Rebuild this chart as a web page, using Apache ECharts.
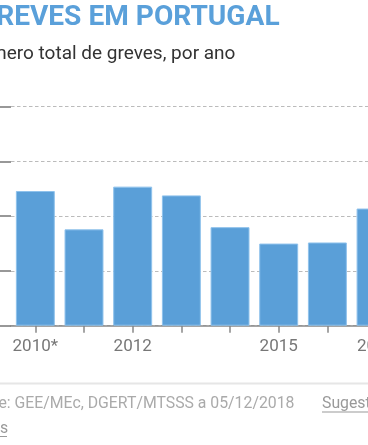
<!DOCTYPE html>
<html>
<head>
<meta charset="utf-8">
<script src="https://cdn.jsdelivr.net/npm/echarts@6/dist/echarts.min.js"></script>
<style>
html,body{margin:0;padding:0;background:#fff;overflow:hidden;width:368px;height:445px;position:relative;}
#chart{position:absolute;left:-40px;top:0;width:448px;height:445px;}
</style>
</head>
<body>
<div id="chart"></div>
<script>
const categories = ['2010*', '2011', '2012', '2013', '2014', '2015', '2016', '2017'];
const tickLabels = ['2010*', '', '2012', '', '', '2015', '', '2017'];
const strikes = [123, 88, 127, 119, 90, 75, 76, 107];
const yTicks = [0, 50, 100, 150, 200];

const OX = 40; // chart is shifted 40px left of the visible window
const chart = echarts.init(document.getElementById('chart'), null, {renderer: 'canvas'});
const FONT = 'Roboto';
chart.setOption({
  animation: false,
  grid: {left: OX + 11, right: 448 - (OX + 400.4), top: 106.7, bottom: 119.3, containLabel: false},
  xAxis: {
    type: 'category',
    data: categories,
    boundaryGap: true,
    axisLine: {show: true, lineStyle: {color: '#888', width: 1.5}},
    axisTick: {show: true, alignWithLabel: true, length: 7, lineStyle: {color: '#888', width: 1.5}},
    axisLabel: {
      interval: 0,
      formatter: (v, i) => tickLabels[i],
      color: '#777', fontFamily: FONT, fontSize: 17, margin: 13
    },
    splitLine: {show: false}
  },
  yAxis: {
    type: 'value',
    min: yTicks[0], max: yTicks[yTicks.length - 1], interval: 50,
    axisLine: {show: false},
    axisTick: {show: true, length: 12, lineStyle: {color: '#777', width: 1.5}},
    axisLabel: {show: false},
    splitLine: {show: true, lineStyle: {color: '#bbb', width: 1, type: [3.5, 2.5]}}
  },
  series: [{
    type: 'bar',
    data: strikes,
    barCategoryGap: '20%',
    itemStyle: {color: '#5a9fd8', borderColor: '#8fc2ec', borderWidth: 1},
    z: 3
  }],
  graphic: [
    {type: 'text', left: OX - 23, top: 4, style: {text: 'GREVES EM PORTUGAL', font: 'bold 28.1px Roboto', fill: '#5aa0da'}},
    {type: 'text', left: OX - 34, top: 45, style: {text: 'Número total de greves, por ano', font: '19px Roboto', fill: '#333'}},
    {type: 'rect', shape: {x: OX, y: 382.5, width: 368, height: 2}, style: {fill: '#e6e6e6'}},
    {type: 'text', left: OX - 33, top: 396, style: {text: 'Fonte: GEE/MEc, DGERT/MTSSS a 05/12/2018', font: '15.8px Roboto', fill: '#aaa'}},
    {type: 'text', left: OX + 322, top: 396, style: {text: 'Sugestões', font: '15.8px Roboto', fill: '#999'}},
    {type: 'rect', shape: {x: OX + 322, y: 411.5, width: 60, height: 1}, style: {fill: '#999'}},
    {type: 'text', left: OX - 37, top: 421, style: {text: 'Dados', font: '15.8px Roboto', fill: '#999'}},
    {type: 'rect', shape: {x: OX, y: 436, width: 7, height: 1}, style: {fill: '#999'}}
  ]
});
</script>
</body>
</html>
